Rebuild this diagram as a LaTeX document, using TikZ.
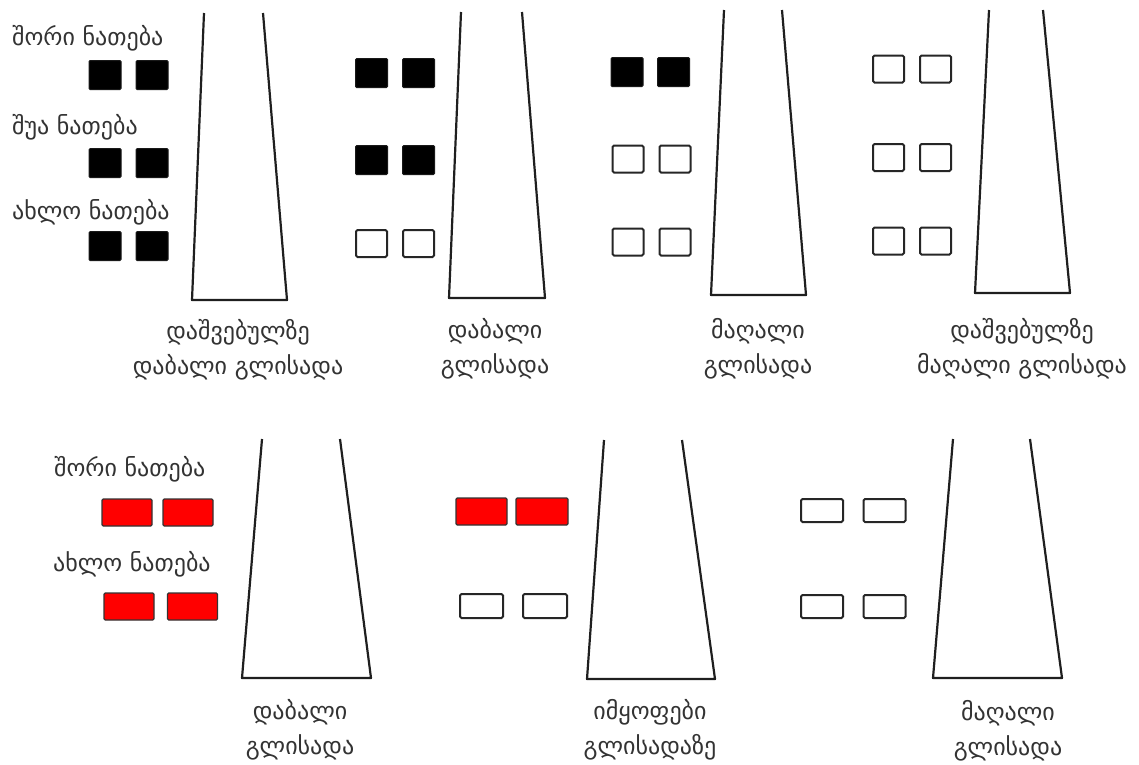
\documentclass[tikz,border=0pt]{standalone}
\usepackage{fontspec}
\newfontfamily\geo{DejaVu Sans}
\begin{document}
\begin{tikzpicture}[x=1pt,y=-1pt,
  trap/.style={draw=black!88,line width=2.2pt,line join=round},
  lbl/.style={font=\geo\fontsize{24}{35}\selectfont,text=black!80,inner sep=0pt,align=center},
  side/.style={font=\geo\fontsize{24}{20}\selectfont,text=black!80,inner sep=0pt,anchor=west},
  onbox/.style={draw=black!90,fill=black,line width=1pt,rounded corners=1.2pt,inner sep=0pt,minimum width=32pt,minimum height=29pt},
  offbox/.style={draw=black!85,fill=white,line width=2pt,rounded corners=1.5pt,inner sep=0pt,minimum width=31pt,minimum height=27pt},
  redbox/.style={draw=black!80,fill=red,line width=1.2pt,rounded corners=1.2pt,inner sep=0pt,minimum width=50pt,minimum height=27pt},
  offwide/.style={draw=black!85,fill=white,line width=2pt,rounded corners=1.5pt,inner sep=0pt,minimum width=42pt,minimum height=23pt}]
\useasboundingbox (0,0) rectangle (1139,764);
% ---------- top row ----------
% panel 1
\draw[trap] (204,13) -- (192,300) -- (287,300) -- (263,13);
\node[side] (t1a) at (12,38) {შორი ნათება};
\node[side] (t1b) at (12,127) {შუა ნათება};
\node[side] (t1c) at (12,212) {ახლო ნათება};
\node[onbox] (p1a1) at (105,75) {};
\node[onbox] (p1a2) at (152,75) {};
\node[onbox] (p1b1) at (105,163) {};
\node[onbox] (p1b2) at (152,163) {};
\node[onbox] (p1c1) at (105,246) {};
\node[onbox] (p1c2) at (152,246) {};
\node[lbl] (l1) at (238,350) {დაშვებულზე\\დაბალი გლისადა};
% panel 2
\draw[trap] (461,12) -- (449,298) -- (545,298) -- (522,12);
\node[onbox] (p2a1) at (371.5,73) {};
\node[onbox] (p2a2) at (418.5,73) {};
\node[onbox] (p2b1) at (371.5,160) {};
\node[onbox] (p2b2) at (418.5,160) {};
\node[offbox] (p2c1) at (371.5,243.5) {};
\node[offbox] (p2c2) at (418.5,243.5) {};
\node[lbl] (l2) at (495,349) {დაბალი\\გლისადა};
% panel 3
\draw[trap] (724,10) -- (711,295) -- (806,295) -- (782,10);
\node[onbox] (p3a1) at (627,72) {};
\node[onbox] (p3a2) at (673.5,72) {};
\node[offbox] (p3b1) at (628,159) {};
\node[offbox] (p3b2) at (675,159) {};
\node[offbox] (p3c1) at (628,242) {};
\node[offbox] (p3c2) at (675,242) {};
\node[lbl] (l3) at (758,349) {მაღალი\\გლისადა};
% panel 4
\draw[trap] (989,10) -- (975,293) -- (1070,293) -- (1043,10);
\node[offbox] (p4a1) at (888.5,69) {};
\node[offbox] (p4a2) at (935.5,69) {};
\node[offbox] (p4b1) at (888.5,157.5) {};
\node[offbox] (p4b2) at (935.5,157.5) {};
\node[offbox] (p4c1) at (888.5,241) {};
\node[offbox] (p4c2) at (935.5,241) {};
\node[lbl] (l4) at (1022,349) {დაშვებულზე\\მაღალი გლისადა};
% ---------- bottom row ----------
% panel 5
\draw[trap] (262,439) -- (242,678) -- (371,678) -- (340,439);
\node[side] (b5a) at (54,469) {შორი ნათება};
\node[side] (b5b) at (53,564) {ახლო ნათება};
\node[redbox] (p5a1) at (127,512.5) {};
\node[redbox] (p5a2) at (188,512.5) {};
\node[redbox] (p5b1) at (129,606.5) {};
\node[redbox] (p5b2) at (192.5,606.5) {};
\node[lbl] (l5) at (300,730) {დაბალი\\გლისადა};
% panel 6
\draw[trap] (604,440) -- (587,679) -- (715,679) -- (682,440);
\node[redbox,minimum width=51pt] (p6a1) at (481.5,511.5) {};
\node[redbox,minimum width=52pt] (p6a2) at (542,511.5) {};
\node[offwide,minimum width=43pt,minimum height=24pt] (p6b1) at (481.5,606) {};
\node[offwide,minimum width=44pt,minimum height=24pt] (p6b2) at (545,606) {};
\node[lbl] (l6) at (650,730) {იმყოფები\\გლისადაზე};
% panel 7
\draw[trap] (953,439) -- (933,678) -- (1062,678) -- (1030,439);
\node[offwide] (p7a1) at (822,510.5) {};
\node[offwide] (p7a2) at (884.5,510.5) {};
\node[offwide] (p7b1) at (822,606.5) {};
\node[offwide] (p7b2) at (884.5,606.5) {};
\node[lbl] (l7) at (1008,731) {მაღალი\\გლისადა};
\end{tikzpicture}
\end{document}
